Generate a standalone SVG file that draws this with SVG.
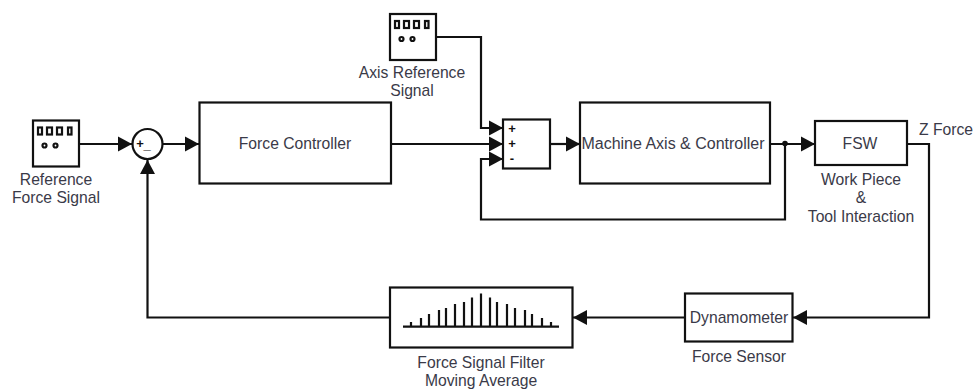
<svg xmlns="http://www.w3.org/2000/svg" width="975" height="390" viewBox="0 0 975 390">
<style>
.b{fill:#fff;stroke:#111;stroke-width:2.200}
.w{fill:none;stroke:#111;stroke-width:2.200}
.t{font-family:"Liberation Sans",Arial,sans-serif;font-size:15.700px;fill:#3a3a48;text-anchor:middle}
.s{font-family:"Liberation Sans",Arial,sans-serif;font-weight:bold;font-size:13px;fill:#111;text-anchor:middle}
.g{fill:#fff;stroke:#111;stroke-width:2.200}
.d{fill:#111}
</style>
<defs>
<marker id="a" markerUnits="userSpaceOnUse" markerWidth="14" markerHeight="16" refX="14" refY="8" orient="auto"><path d="M0 0.500L14 8L0 15.500Z" fill="#111"/></marker>
<g id="src">
<rect class="b" x="0" y="0" width="46" height="46"/>
<rect class="g" x="5" y="7" width="4" height="7"/><rect class="g" x="14" y="7" width="5" height="7"/><rect class="g" x="24" y="7" width="5" height="7"/><rect class="g" x="35" y="7" width="3.500" height="7"/>
<circle class="g" cx="11.500" cy="25" r="2"/><circle class="g" cx="22.500" cy="25" r="2"/>
</g>
</defs>
<g id="connectors">
<path class="w" marker-end="url(#a)" d="M79 144H132"/>
<path class="w" marker-end="url(#a)" d="M163 144H199"/>
<path class="w" marker-end="url(#a)" d="M436 37H481V128H503"/>
<path class="w" marker-end="url(#a)" d="M391 144H503"/>
<path class="w" marker-end="url(#a)" d="M785 144V219.500H481V159H503"/>
<path class="w" marker-end="url(#a)" d="M550 144H580"/>
<path class="w" marker-end="url(#a)" d="M770 144H815"/>
<circle class="d" cx="785" cy="143.500" r="2.800"/>
<path class="w" marker-end="url(#a)" d="M907 144H929V317.500H793"/>
<path class="w" marker-end="url(#a)" d="M685 317.500H573"/>
<path class="w" marker-end="url(#a)" d="M390 317.500H147.500V160"/>
</g>
<g id="reference-force-signal">
<use href="#src" x="33" y="120.500"/>
<text class="t" x="56" y="185">Reference</text><text class="t" x="56" y="203">Force Signal</text>
</g>
<g id="sum-force">
<circle class="b" cx="147.500" cy="144" r="15"/>
<text class="s" x="140" y="147.500">+</text><text class="s" x="147" y="149">_</text>
</g>
<g id="force-controller">
<rect class="b" x="199.500" y="102.500" width="191.500" height="81"/>
<text class="t" x="295" y="149">Force Controller</text>
</g>
<g id="axis-reference-signal">
<use href="#src" x="390" y="14"/>
<text class="t" x="412" y="78">Axis Reference</text><text class="t" x="412" y="96">Signal</text>
</g>
<g id="sum-axis">
<rect class="b" x="503" y="119.500" width="47" height="49"/>
<text class="s" x="512" y="132.500">+</text><text class="s" x="512" y="148">+</text><text class="s" x="512" y="163">-</text>
</g>
<g id="machine-axis">
<rect class="b" x="580" y="102.500" width="190" height="81"/>
<text class="t" x="673" y="149" style="font-size:16px">Machine Axis &amp; Controller</text>
</g>
<g id="fsw">
<rect class="b" x="815" y="121" width="92" height="44"/>
<text class="t" x="860" y="149">FSW</text>
<text class="t" x="861" y="185">Work Piece</text><text class="t" x="861" y="203">&amp;</text><text class="t" x="861" y="222">Tool Interaction</text>
</g>
<g id="z-force"><text class="t" x="946" y="135">Z Force</text></g>
<g id="dynamometer">
<rect class="b" x="685" y="293.500" width="107.500" height="48"/>
<text class="t" x="739" y="323">Dynamometer</text>
<text class="t" x="739" y="362">Force Sensor</text>
</g>
<g id="force-signal-filter">
<rect class="b" x="390" y="287.500" width="182.500" height="60"/>
<path class="w" d="M403 326.700H559M411 326V322M421 326V318M429 326V314M439 326V310M446 326V308M455 326V304M464 326V302M472 326V297.500M481 326V293.500M490 326V297.500M497 326V302M507 326V304M515 326V308M525 326V310M532 326V314M542 326V318M551 326V322"/>
<text class="t" x="481" y="368">Force Signal Filter</text><text class="t" x="481" y="386">Moving Average</text>
</g>
</svg>
